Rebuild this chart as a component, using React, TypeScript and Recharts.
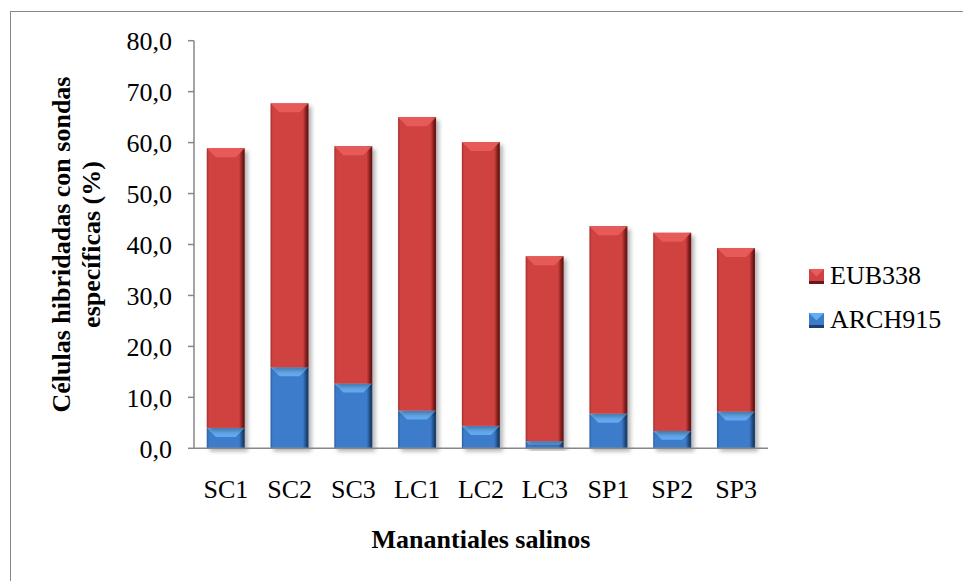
import React from 'react';
import { BarChart, Bar, XAxis, YAxis } from 'recharts';

const categories = ['SC1', 'SC2', 'SC3', 'LC1', 'LC2', 'LC3', 'SP1', 'SP2', 'SP3'];
const arch915 = [4.0, 15.9, 12.7, 7.4, 4.4, 1.4, 6.8, 3.4, 7.2];
const eub338 = [54.9, 51.8, 46.6, 57.6, 55.7, 36.3, 36.8, 38.9, 32.1];
const yTicks = [0, 10, 20, 30, 40, 50, 60, 70, 80];

const data = categories.map((name, i) => ({ name, ARCH915: arch915[i], EUB338: eub338[i] }));

const FONT = '"Liberation Serif", "Times New Roman", serif';
const AXIS = '#878787';

const palettes: Record<string, { id: string; edgeL: string; mid: string; edgeR: string; bevel: string }> = {
    EUB338: { id: 'gradRed', edgeL: '#a52c2c', mid: '#cf4241', edgeR: '#6e1717', bevel: '#e85d5b' },
    ARCH915: { id: 'gradBlue', edgeL: '#2a5e9e', mid: '#3d7ccb', edgeR: '#1b3f6e', bevel: '#66aef2' },
};

// beveled bar segment with a soft drop shadow, like an Excel 3D-ish fill
function BevelBar(props: any) {
    const { x, y, width, height, dataKey } = props;
    if (!height || height <= 0) return null;
    const p = palettes[dataKey];
    const b = Math.min(9, height / 2, width / 2);
    return (
        <g>
            <defs>
                <linearGradient id={p.id} x1="0" y1="0" x2="1" y2="0">
                    <stop offset="0%" stopColor={p.edgeL} />
                    <stop offset="6%" stopColor={p.mid} />
                    <stop offset="85%" stopColor={p.mid} />
                    <stop offset="96%" stopColor={p.edgeR} />
                    <stop offset="100%" stopColor={p.edgeR} />
                </linearGradient>
                <filter id="barShadow" x="-20%" y="-20%" width="150%" height="150%">
                    <feDropShadow dx="3" dy="3" stdDeviation="2" floodColor="#000" floodOpacity="0.3" />
                </filter>
            </defs>
            <rect x={x} y={y} width={width} height={height} fill={`url(#${p.id})`} filter="url(#barShadow)" />
            <polygon
                points={`${x},${y} ${x + width},${y} ${x + width - b},${y + b} ${x + b},${y + b}`}
                fill={p.bevel}
                opacity={0.9}
            />
        </g>
    );
}

function YTitle(props: any) {
    const { viewBox } = props;
    const cy = viewBox.y + viewBox.height / 2;
    return (
        <g transform={`translate(70, ${cy}) rotate(-90)`}>
            <text x={0} y={0} textAnchor="middle" fontFamily={FONT} fontSize={26} fontWeight="bold" fill="#000">
                Células hibridadas con sondas
            </text>
            <text x={0} y={30} textAnchor="middle" fontFamily={FONT} fontSize={26} fontWeight="bold" fill="#000">
                específicas (%)
            </text>
        </g>
    );
}

const legendItems = [
    { name: 'EUB338', key: 'EUB338' },
    { name: 'ARCH915', key: 'ARCH915' },
];

function LegendBox() {
    return (
        <div style={{ position: 'absolute', left: 809, top: 254, fontFamily: FONT, fontSize: 26, color: '#000' }}>
            {legendItems.map((it) => {
                const p = palettes[it.key];
                return (
                    <div key={it.key} style={{ display: 'flex', alignItems: 'center', height: 44 }}>
                        <svg width={15} height={15} style={{ marginRight: 6 }}>
                            <rect x={0} y={0} width={15} height={15} fill={p.mid} />
                            <polygon points="0,0 15,0 7.5,7.5" fill={p.bevel} />
                            <rect x={0} y={12} width={15} height={3} fill={p.edgeR} />
                        </svg>
                        <span>{it.name}</span>
                    </div>
                );
            })}
        </div>
    );
}

export default function App() {
    return (
        <div style={{ position: 'relative', width: 963, height: 581, overflow: 'hidden', background: '#fff' }}>
            <style>{`body{margin:0;overflow:hidden}`}</style>
            <div
                style={{
                    position: 'absolute',
                    left: 10,
                    top: 11,
                    width: 1200,
                    height: 800,
                    border: `1.5px solid ${AXIS}`,
                }}
            />
            <div style={{ position: 'absolute', left: 0, top: 0 }}>
                <BarChart
                    width={963}
                    height={581}
                    data={data}
                    barCategoryGap="20%"
                    margin={{ top: 40.7, right: 195, left: 10, bottom: 32.7 }}
                >
                    <XAxis
                        dataKey="name"
                        height={100}
                        axisLine={{ stroke: AXIS, strokeWidth: 1.5 }}
                        tickLine={false}
                        tickSize={0}
                        tickMargin={31}
                        tick={{ fill: '#000', fontFamily: FONT, fontSize: 26 }}
                        label={{
                            value: 'Manantiales salinos',
                            position: 'insideBottom',
                            offset: 0,
                            fill: '#000',
                            fontFamily: FONT,
                            fontSize: 26,
                            fontWeight: 'bold',
                        }}
                    />
                    <YAxis
                        width={184}
                        domain={[0, 80]}
                        ticks={yTicks}
                        interval={0}
                        axisLine={{ stroke: AXIS, strokeWidth: 1.5 }}
                        tickLine={{ stroke: AXIS, strokeWidth: 1.5 }}
                        tickSize={6}
                        tickMargin={16}
                        tickFormatter={(v: number) => v.toFixed(1).replace('.', ',')}
                        tick={{ fill: '#000', fontFamily: FONT, fontSize: 26 }}
                        label={<YTitle />}
                    />
                    <Bar dataKey="ARCH915" stackId="a" shape={<BevelBar />} isAnimationActive={false} />
                    <Bar dataKey="EUB338" stackId="a" shape={<BevelBar />} isAnimationActive={false} />
                </BarChart>
            </div>
            <LegendBox />
        </div>
    );
}
